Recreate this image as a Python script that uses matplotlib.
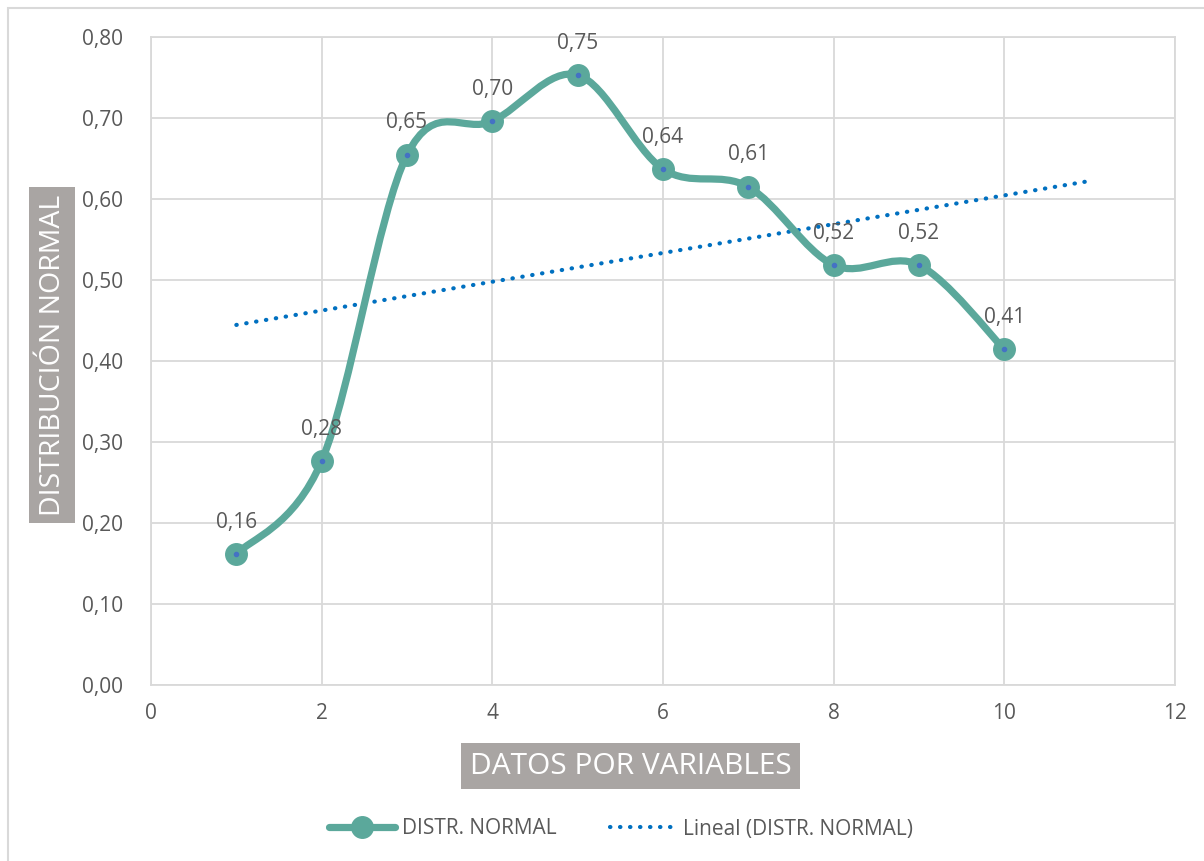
import numpy as np
import matplotlib
matplotlib.use("Agg")
import matplotlib.pyplot as plt
from matplotlib.path import Path
from matplotlib.patches import PathPatch, Rectangle
from matplotlib.lines import Line2D

# Data
x_vals = [1, 2, 3, 4, 5, 6, 7, 8, 9, 10]
y_vals = [0.1615, 0.2765, 0.6545, 0.696, 0.753, 0.637, 0.615, 0.5185, 0.5185, 0.4145]
series_name = "DISTR. NORMAL"
trend_name = "Lineal (DISTR. NORMAL)"
x_title = "DATOS POR VARIABLES"
y_title = "DISTRIBUCIÓN NORMAL"
x_ticks = [0, 2, 4, 6, 8, 10, 12]
y_ticks = [0.0, 0.1, 0.2, 0.3, 0.4, 0.5, 0.6, 0.7, 0.8]

W, H = 1204, 861
DPI = 100
LINE_C = "#5ba89b"
DOT_C = "#4472c4"
TREND_C = "#0070c0"
TXT_C = "#595959"
GRID_C = "#d9d9d9"
BOX_C = "#a9a5a3"
FS = 15

plt.rcParams["font.family"] = ["Open Sans", "DejaVu Sans"]

fig = plt.figure(figsize=(W / DPI, H / DPI), dpi=DPI)
fig.patch.set_facecolor("white")


def px_rect(x0, y0, x1, y1, **kw):
    """Rectangle given in pixel coordinates measured from the top-left corner."""
    return Rectangle((x0 / W, 1 - y1 / H), (x1 - x0) / W, (y1 - y0) / H,
                     transform=fig.transFigure, **kw)


# outer chart border
fig.add_artist(px_rect(8, 8, W + 20, H + 20, fill=False, edgecolor=GRID_C, linewidth=1.5))

left, right, top, bottom = 151, 1175, 37, 685
ax = fig.add_axes([left / W, 1 - bottom / H, (right - left) / W, (bottom - top) / H])
ax.set_xlim(0, 12)
ax.set_ylim(0, 0.8)
ax.set_xticks(x_ticks)
ax.set_yticks(y_ticks)
ax.set_xticklabels([str(t) for t in x_ticks])
ax.set_yticklabels([f"{t:.2f}".replace(".", ",") for t in y_ticks])
ax.tick_params(length=0, labelsize=FS, colors=TXT_C)
ax.tick_params(axis="y", pad=20)
ax.tick_params(axis="x", pad=13)
ax.grid(True, color=GRID_C, linewidth=1.3)
ax.set_axisbelow(True)
for s in ax.spines.values():
    s.set_color(GRID_C)
    s.set_linewidth(1.3)

# smoothed series (Catmull-Rom style Bezier segments)
pts = np.column_stack([x_vals, y_vals])
verts = [tuple(pts[0])]
codes = [Path.MOVETO]
n = len(pts)
for i in range(n - 1):
    p0 = pts[max(i - 1, 0)]
    p1 = pts[i]
    p2 = pts[i + 1]
    p3 = pts[min(i + 2, n - 1)]
    c1 = p1 + (p2 - p0) / 6.0
    c2 = p2 - (p3 - p1) / 6.0
    verts += [tuple(c1), tuple(c2), tuple(p2)]
    codes += [Path.CURVE4] * 3
ax.add_patch(PathPatch(Path(verts, codes), fill=False, edgecolor=LINE_C, linewidth=5.2,
                       capstyle="round", joinstyle="round", zorder=3))
ax.plot(x_vals, y_vals, linestyle="none", marker="o", markersize=15.5, markerfacecolor=LINE_C,
        markeredgecolor=LINE_C, zorder=4)
ax.plot(x_vals, y_vals, linestyle="none", marker="o", markersize=3, markerfacecolor=DOT_C,
        markeredgecolor=DOT_C, zorder=5)

# linear trend with one period forward
slope, intercept = np.polyfit(x_vals, y_vals, 1)
tx = np.array([x_vals[0], x_vals[-1] + 1])
ax.plot(tx, slope * tx + intercept, color=TREND_C, linewidth=3, linestyle=(0, (0.1, 2.3)),
        dash_capstyle="round", zorder=2)

# data labels
for xv, yv in zip(x_vals, y_vals):
    ax.annotate(f"{yv:.2f}".replace(".", ","), (xv, yv), xytext=(0, 23), textcoords="offset points",
                ha="center", va="center", fontsize=FS, color=TXT_C, zorder=6)

# axis titles in grey boxes
fig.add_artist(px_rect(29, 187, 75, 523, facecolor=BOX_C, edgecolor="none"))
fig.text(53 / W, 1 - 355 / H, y_title, rotation=90, ha="center", va="center", color="white",
         fontsize=20.5)
fig.add_artist(px_rect(461, 743, 800, 789, facecolor=BOX_C, edgecolor="none"))
fig.text(630.5 / W, 1 - 767 / H, x_title, ha="center", va="center", color="white",
         fontsize=21.5)

# legend
h1 = Line2D([], [], color=LINE_C, linewidth=5.2, marker="o", markersize=15.5,
            markerfacecolor=LINE_C, markeredgecolor=LINE_C, solid_capstyle="round")
h2 = Line2D([], [], color=TREND_C, linewidth=3, linestyle=(0, (0.1, 2.3)), dash_capstyle="round")
fig.legend([h1, h2], [series_name, trend_name], loc="center", bbox_to_anchor=(621 / W, 1 - 829 / H),
           ncol=2, frameon=False, fontsize=FS, labelcolor=TXT_C, handlelength=3.2,
           columnspacing=2.6, handletextpad=0.3)

fig.savefig("out.png", dpi=DPI, facecolor="white")
